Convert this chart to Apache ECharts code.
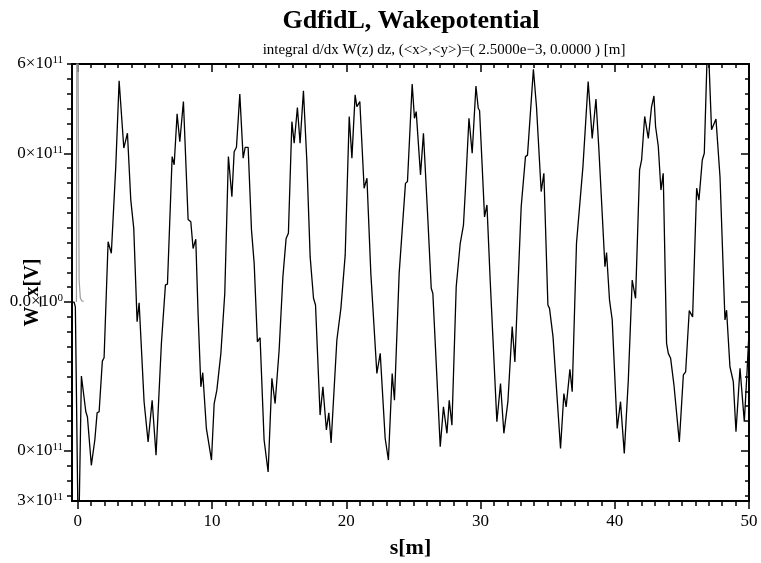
<!DOCTYPE html>
<html>
<head>
<meta charset="utf-8">
<script src="https://cdn.jsdelivr.net/npm/echarts@6/dist/echarts.min.js"></script>
<style>
  html, body { margin: 0; padding: 0; background: #fff; }
  #chart { width: 761px; height: 563px; }
</style>
</head>
<body>
<div id="chart"></div>
<script>
// W_x in units of 1e11 V against s in m
const wakePoints = [
  [-0.43, 0], [-0.28, 0], [-0.18, -0.13], [0.05, -6.8], [0.27, -1.99], [0.60, -2.95], [0.72, -3.09],
  [1.01, -4.39], [1.27, -3.71], [1.44, -2.98], [1.59, -2.95], [1.83, -1.59], [1.96, -1.50], [2.26, 1.62],
  [2.50, 1.31], [2.83, 3.64], [3.08, 5.95], [3.43, 4.14], [3.70, 4.54], [3.95, 2.74], [4.17, 1.98],
  [4.42, -0.53], [4.57, -0.02], [4.94, -2.68], [5.24, -3.76], [5.54, -2.64], [5.83, -4.12], [6.23, -1.11],
  [6.53, 0.46], [6.68, 0.48], [7.03, 3.91], [7.18, 3.69], [7.40, 5.06], [7.60, 4.31], [7.87, 5.39],
  [8.22, 2.22], [8.42, 2.16], [8.59, 1.44], [8.79, 1.69], [8.96, -0.30], [9.17, -2.28], [9.31, -1.90],
  [9.58, -3.40], [9.71, -3.44], [9.96, -4.25], [10.16, -2.73], [10.36, -2.37], [10.66, -1.38], [10.95, 0.23],
  [11.22, 3.91], [11.48, 2.83], [11.65, 4.04], [11.82, 4.16], [12.07, 5.59], [12.32, 3.87], [12.47, 4.16],
  [12.69, 4.16], [12.94, 1.94], [13.14, 1.04], [13.38, -1.07], [13.58, -0.96], [13.88, -3.71], [14.18, -4.57],
  [14.46, -2.05], [14.70, -2.73], [15.00, -1.29], [15.28, 0.68], [15.52, 1.71], [15.69, 1.85], [15.95, 4.85],
  [16.12, 4.27], [16.36, 5.23], [16.56, 4.27], [16.81, 5.68], [17.06, 3.82], [17.31, 1.22], [17.56, 0.10],
  [17.71, -0.08], [18.05, -3.04], [18.26, -2.28], [18.52, -3.44], [18.70, -2.98], [18.87, -3.79], [19.30, -1.02],
  [19.37, -1.00], [19.60, -0.17], [19.69, -0.13], [19.92, 1.26], [20.22, 4.99], [20.42, 3.87], [20.66, 5.57],
  [20.79, 5.25], [21.01, 5.39], [21.33, 3.06], [21.54, 3.33], [21.83, 0.77], [22.28, -1.92], [22.53, -1.38],
  [22.90, -3.67], [22.97, -3.71], [23.14, -4.25], [23.42, -1.92], [23.59, -2.64], [23.94, 0.77], [24.41, 3.19],
  [24.56, 3.24], [24.91, 5.86], [25.08, 4.94], [25.21, 5.12], [25.53, 3.42], [25.75, 4.54], [26.08, 2.21],
  [26.33, 0.37], [26.45, 0.23], [27.00, -3.89], [27.24, -2.82], [27.50, -3.53], [27.67, -2.64], [27.87, -3.31],
  [28.19, 0.41], [28.49, 1.58], [28.73, 2.07], [28.88, 3.06], [29.14, 4.94], [29.38, 4.00], [29.66, 5.81],
  [29.83, 5.21], [29.93, 5.15], [30.30, 2.29], [30.48, 2.61], [30.72, 0.59], [31.22, -3.22], [31.49, -2.19],
  [31.74, -3.53], [32.04, -2.68], [32.16, -2.64], [32.36, -0.66], [32.56, -1.61], [33.03, 2.56], [33.35, 3.91],
  [33.50, 3.95], [33.94, 6.26], [34.17, 5.25], [34.52, 2.97], [34.72, 3.46], [35.02, -0.08], [35.14, -0.17],
  [35.40, -0.93], [35.51, -0.98], [35.96, -3.94], [36.21, -2.46], [36.38, -2.82], [36.66, -1.81], [36.83, -2.41],
  [37.15, 1.58], [37.28, 1.62], [37.63, 3.64], [38.02, 5.93], [38.32, 4.40], [38.60, 5.46], [38.82, 4.09],
  [38.94, 4.04], [39.27, 0.95], [39.39, 1.33], [39.61, 0.05], [39.81, -0.48], [40.18, -3.40], [40.43, -2.68],
  [40.71, -4.07], [41.01, -2.10], [41.30, 0.59], [41.55, 0.10], [41.85, 3.55], [42.00, 3.82], [42.23, 4.99],
  [42.50, 4.40], [42.74, 5.25], [42.92, 5.54], [43.04, 4.72], [43.24, 4.20], [43.44, 3.01], [43.61, 3.46],
  [43.86, -1.11], [43.99, -1.38], [44.16, -1.51], [44.41, -2.23], [44.53, -2.23], [44.81, -3.76], [45.11, -1.96],
  [45.28, -1.88], [45.55, -0.23], [45.80, -0.40], [46.10, 3.06], [46.27, 2.74], [46.52, 3.82], [46.67, 4.00],
  [46.87, 6.5], [47.02, 6.45], [47.21, 4.63], [47.54, 4.92], [47.84, 3.37], [48.21, -0.48], [48.33, -0.22],
  [48.58, -1.74], [48.83, -2.14], [49.03, -3.49], [49.33, -1.78], [49.65, -3.22], [49.85, -1.9], [50.00, -0.8]
];

// grey bunch trace near s = 0
const chargePoints = [
  [-0.1, 0], [-0.05, 12], [0.1, 0.6], [0.19, 0.11], [0.3, 0.03], [0.45, 0.02]
];

const sMin = -0.43, sMax = 50;
const wMin = -5.35, wMax = 6.4;
const sMajorTicks = [0, 10, 20, 30, 40, 50];
const wMajorTicks = [-4, 0, 4];
const wLabelValues = [-5.35, -4, 0, 4, 6.4];
const wLabelMantissa = ['3', '0', '0.0', '0', '6'];
const wLabelExponent = ['11', '11', '0', '11', '11'];

const sMinorTicks = [];
for (let i = 0; i <= 50; i++) sMinorTicks.push(i);
const wMinorTicks = [];
for (let k = -13; k <= 16; k++) wMinorTicks.push(+(k * 0.4).toFixed(1));

const serif = "'Liberation Serif', 'Times New Roman', serif";
const black = '#000';

function frameAxis(position, min, max, ticks, len, inside, showLine, extra) {
  return Object.assign({
    type: 'value', position: position, min: min, max: max,
    axisLine: { show: showLine, onZero: false, lineStyle: { color: black, width: 2 } },
    axisTick: { show: true, inside: inside, length: len, customValues: ticks,
      lineStyle: { color: black, width: 1.5 } },
    axisLabel: { show: false },
    splitLine: { show: false }
  }, extra || {});
}

const chart = echarts.init(document.getElementById('chart'));

chart.setOption({
  backgroundColor: '#fff',
  animation: false,
  title: [{
    text: 'GdfidL, Wakepotential',
    left: 406, top: 3, textAlign: 'center',
    textStyle: { fontFamily: serif, fontSize: 26, fontWeight: 'bold', color: black }
  }, {
    text: 'integral d/dx W(z) dz, (<x>,<y>)=( 2.5000e\u22123, 0.0000 ) [m]',
    left: 439, top: 38, textAlign: 'center',
    textStyle: { fontFamily: serif, fontSize: 15, fontWeight: 'normal', color: black }
  }],
  grid: { left: 72, right: 12, top: 64, bottom: 62, containLabel: false, outerBoundsMode: 'none' },
  xAxis: [
    frameAxis('bottom', sMin, sMax, sMajorTicks, 8, false, true, {
      name: 's[m]', nameLocation: 'middle', nameGap: 36, nameMoveOverlap: false,
      nameTextStyle: { fontFamily: serif, fontSize: 22, fontWeight: 'bold', color: black },
      axisLabel: { show: true, customValues: sMajorTicks, margin: 12,
        fontFamily: serif, fontSize: 17, color: black }
    }),
    frameAxis('bottom', sMin, sMax, sMinorTicks, 5, false, false),
    frameAxis('top', sMin, sMax, sMajorTicks, 8, true, true),
    frameAxis('top', sMin, sMax, sMinorTicks, 4, true, false)
  ],
  yAxis: [
    frameAxis('left', wMin, wMax, wMajorTicks, 8, false, true, {
      name: 'W_x[V]', nameLocation: 'middle', nameGap: 29, nameRotate: 90, nameMoveOverlap: false,
      nameTextStyle: { fontFamily: serif, fontSize: 20, fontWeight: 'bold', color: black,
        padding: [0, 20, 0, 0] },
      axisLabel: {
        show: true, customValues: wLabelValues, margin: 9,
        formatter: function (v) {
          const i = wLabelValues.indexOf(v);
          if (i < 0) return '';
          return '{m|' + wLabelMantissa[i] + '\u00d710}{s|' + wLabelExponent[i] + '}';
        },
        rich: {
          m: { fontFamily: serif, fontSize: 17, color: black, lineHeight: 18 },
          s: { fontFamily: serif, fontSize: 11, color: black, lineHeight: 11, verticalAlign: 'top' }
        }
      }
    }),
    frameAxis('left', wMin, wMax, wMinorTicks, 5, false, false),
    frameAxis('right', wMin, wMax, wMajorTicks, 8, true, true),
    frameAxis('right', wMin, wMax, wMinorTicks, 4, true, false)
  ],
  series: [{
    type: 'line',
    data: chargePoints,
    xAxisIndex: 0, yAxisIndex: 0,
    showSymbol: false, clip: true,
    lineStyle: { color: '#9a9a9a', width: 1.2 }
  }, {
    type: 'line',
    data: wakePoints,
    xAxisIndex: 0, yAxisIndex: 0,
    showSymbol: false, clip: true,
    lineStyle: { color: black, width: 1.3 }
  }]
});
</script>
</body>
</html>
